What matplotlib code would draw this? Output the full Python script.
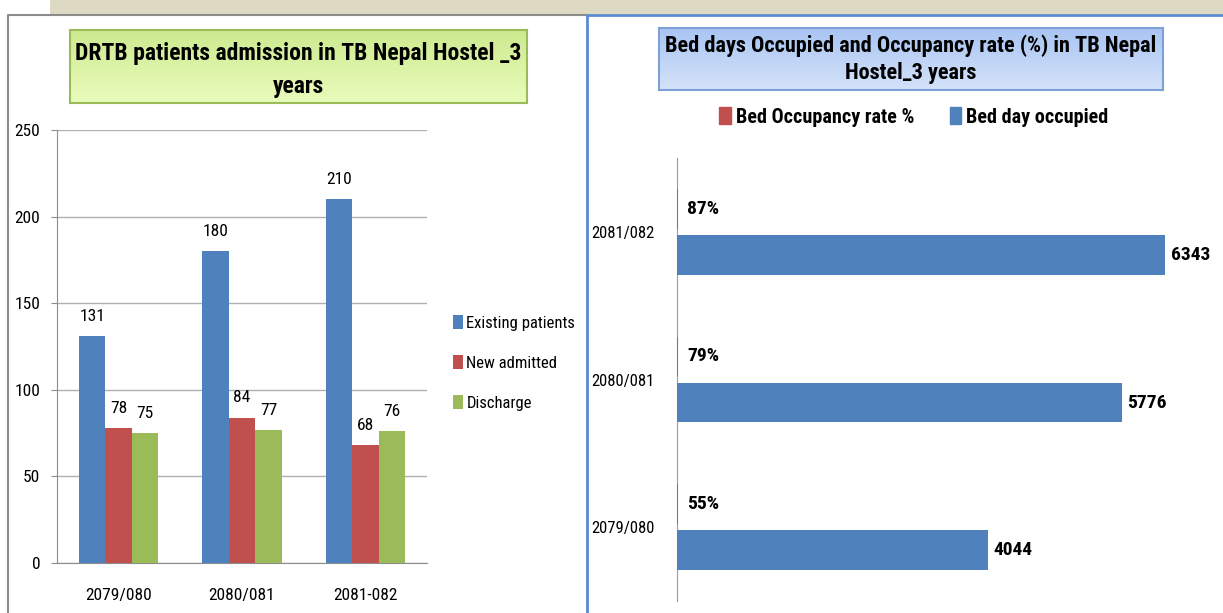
import matplotlib
matplotlib.use("Agg")
import matplotlib.pyplot as plt
import numpy as np
from matplotlib import font_manager
from matplotlib.font_manager import FontProperties
from matplotlib.patches import Rectangle, Patch
from matplotlib.lines import Line2D
from matplotlib.colors import LinearSegmentedColormap

# pick a narrow face if one is installed
names = {f.name for f in font_manager.fontManager.ttflist}
stretch = 'normal'
family = 'Lato'
for cand in ['Liberation Sans Narrow', 'Roboto Condensed', 'Open Sans Condensed', 'Noto Sans Condensed']:
    if cand in names:
        family = cand
        break
else:
    p = font_manager.findfont(FontProperties(family='DejaVu Sans', stretch='condensed'))
    if 'Condensed' in p:
        family, stretch = 'DejaVu Sans', 'condensed'
plt.rcParams['font.family'] = [family, 'DejaVu Sans']
plt.rcParams['font.stretch'] = stretch

# data - left chart
years_left = ['2079/080', '2080/081', '2081-082']
existing = [131, 180, 210]
new_admitted = [78, 84, 68]
discharge = [75, 77, 76]

# data - right chart (bottom to top)
years_right = ['2079/080', '2080/081', '2081/082']
bed_days = [4044, 5776, 6343]
occupancy = [0.55, 0.79, 0.87]

blue, red, green = '#4f81bd', '#c0504d', '#9bbb59'
W, H = 1223, 613

fig = plt.figure(figsize=(W / 100, H / 100), dpi=100)

def fx(x):
    return x / W

def fy(y):
    return 1 - y / H

# frame decorations
fig.patches.append(Rectangle((fx(50), fy(14)), 1 - fx(50), 14 / H, transform=fig.transFigure,
                             facecolor='#ddd9c3', edgecolor='none'))
fig.lines.append(Line2D([fx(8), fx(8), fx(587)], [0, fy(15), fy(15)], transform=fig.transFigure,
                        color='#8c8c8c', lw=1.5))
fig.lines.append(Line2D([fx(587), fx(587), 1], [0, fy(15), fy(15)], transform=fig.transFigure,
                        color='#5b8ccf', lw=2))

# ---------- left chart ----------
ax1 = fig.add_axes([fx(57), fy(563), fx(427) - fx(57), (563 - 130) / H])
x = np.arange(len(years_left))
w = 0.215
series = [(existing, blue, 'Existing patients'), (new_admitted, red, 'New admitted'),
          (discharge, green, 'Discharge')]
for i, (vals, c, lab) in enumerate(series):
    bars = ax1.bar(x + (i - 1) * w, vals, w, color=c, label=lab, zorder=3)
    for b, v in zip(bars, vals):
        ax1.text(b.get_x() + b.get_width() / 2, v + 7, str(v), ha='center', va='bottom', fontsize=12.5)
ax1.set_ylim(0, 250)
ax1.set_xlim(-0.5, 2.5)
ax1.set_yticks(range(0, 251, 50))
ax1.set_xticks(x)
ax1.set_xticklabels(years_left)
ax1.grid(axis='y', color='#b0b0b0', lw=1, zorder=0)
for s in ['top', 'right']:
    ax1.spines[s].set_visible(False)
for s in ['left', 'bottom']:
    ax1.spines[s].set_color('#8c8c8c')
ax1.tick_params(axis='y', length=4, color='#8c8c8c', labelsize=12.5, pad=8)
ax1.tick_params(axis='x', length=0, labelsize=12.5, pad=18)
ax1.legend(loc='center left', bbox_to_anchor=(fx(438), fy(363)), bbox_transform=fig.transFigure,
           frameon=False, fontsize=12, handlelength=0.6, handleheight=0.9, handletextpad=0.2,
           labelspacing=1.45)

# title box left
tb1 = fig.add_axes([fx(70), fy(103), fx(527) - fx(70), (103 - 30) / H])
grad = np.linspace(0, 1, 100).reshape(-1, 1)
gcm = LinearSegmentedColormap.from_list('g', ['#cdea8f', '#e9fcbc'])
tb1.imshow(grad, aspect='auto', cmap=gcm, extent=[0, 1, 0, 1])
tb1.set_xticks([]); tb1.set_yticks([])
for s in tb1.spines.values():
    s.set_color('#9bbb59'); s.set_linewidth(1.5)
tb1.text(0.5, 0.45, 'DRTB patients admission in TB Nepal Hostel _3\nyears', ha='center', va='center',
         fontsize=17, fontweight='bold', linespacing=1.55, transform=tb1.transAxes)

# ---------- right chart ----------
ax2 = fig.add_axes([fx(677), fy(601), fx(1216) - fx(677), (601 - 158) / H])
y = np.arange(len(years_right))
h = 0.27
off = 0.156
ax2.barh(y + off, occupancy, h, color=red, edgecolor=red, lw=1.2, zorder=3, label='Bed Occupancy rate %')
ax2.barh(y - off, bed_days, h, color=blue, zorder=3, label='Bed day occupied')
for yi, v in zip(y, occupancy):
    ax2.text(130, yi + off, f'{round(v * 100)}%', va='center', ha='left', fontsize=14, fontweight='bold')
for yi, v in zip(y, bed_days):
    ax2.text(v + 70, yi - off, str(v), va='center', ha='left', fontsize=14, fontweight='bold')
ax2.set_xlim(0, 7000)
ax2.set_ylim(-0.5, 2.5)
ax2.set_yticks(y)
ax2.set_yticklabels(years_right)
ax2.set_xticks([])
for s in ['top', 'right', 'bottom']:
    ax2.spines[s].set_visible(False)
ax2.spines['left'].set_color('#9c9c9c')
ax2.tick_params(axis='y', length=0, labelsize=12, pad=16)
ax2.legend(handles=[Patch(color=red, label='Bed Occupancy rate %'), Patch(color=blue, label='Bed day occupied')],
           loc='center', bbox_to_anchor=(fx(914), fy(117)), bbox_transform=fig.transFigure, ncol=2,
           frameon=False, prop={'size': 14.5, 'weight': 'bold'}, handlelength=0.55, handleheight=0.9,
           handletextpad=0.25, columnspacing=1.8)

# title box right
tb2 = fig.add_axes([fx(659), fy(90), fx(1163) - fx(659), (90 - 28) / H])
bcm = LinearSegmentedColormap.from_list('b', ['#a9c5f3', '#d4e2f9'])
tb2.imshow(grad, aspect='auto', cmap=bcm, extent=[0, 1, 0, 1])
tb2.set_xticks([]); tb2.set_yticks([])
for s in tb2.spines.values():
    s.set_color('#7da0d6'); s.set_linewidth(1.5)
tb2.text(0.5, 0.5, 'Bed days Occupied and Occupancy rate (%) in TB Nepal\nHostel_3 years', ha='center',
         va='center', fontsize=16, fontweight='bold', linespacing=1.3, transform=tb2.transAxes)

fig.savefig('out.png', dpi=100)
